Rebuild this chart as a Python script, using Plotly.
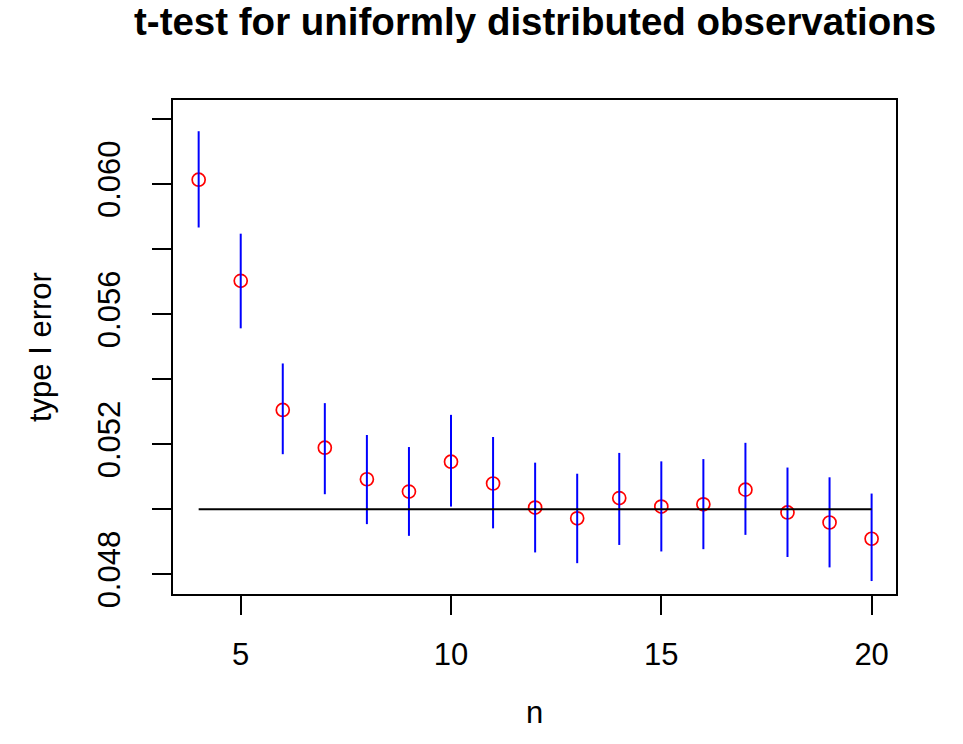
import plotly.graph_objects as go

# Data
n = [4, 5, 6, 7, 8, 9, 10, 11, 12, 13, 14, 15, 16, 17, 18, 19, 20]
type1_error = [0.06013, 0.05702, 0.05305, 0.05189, 0.05092, 0.05054, 0.05146,
               0.05079, 0.05005, 0.04972, 0.05034, 0.05008, 0.05015, 0.05060,
               0.04990, 0.04959, 0.04909]
upper = [0.06162, 0.05847, 0.05448, 0.05326, 0.05228, 0.05191, 0.05290,
         0.05222, 0.05143, 0.05109, 0.05173, 0.05147, 0.05154, 0.05204,
         0.05128, 0.05098, 0.05048]
lower = [0.05866, 0.05556, 0.05169, 0.05046, 0.04954, 0.04918, 0.05008,
         0.04941, 0.04867, 0.04834, 0.04890, 0.04870, 0.04877, 0.04921,
         0.04853, 0.04821, 0.04779]
alpha = 0.05

y_tickvals = [0.048, 0.050, 0.052, 0.054, 0.056, 0.058, 0.060, 0.062]
y_ticktext = ["0.048", "", "0.052", "", "0.056", "", "0.060", ""]
x_tickvals = [5, 10, 15, 20]

FONT = "Liberation Sans, Arial, sans-serif"

# segments for the intervals
seg_x, seg_y = [], []
for xi, lo, hi in zip(n, lower, upper):
    seg_x += [xi, xi, None]
    seg_y += [lo, hi, None]

fig = go.Figure()
fig.add_trace(go.Scatter(
    x=n, y=type1_error, mode="markers",
    marker=dict(symbol="circle-open", size=13, color="#FF0000",
                line=dict(width=1.7, color="#FF0000")),
    showlegend=False, hoverinfo="skip"))
fig.add_trace(go.Scatter(
    x=seg_x, y=seg_y, mode="lines",
    line=dict(color="#0000FF", width=2), showlegend=False, hoverinfo="skip"))
fig.add_trace(go.Scatter(
    x=[n[0], n[-1]], y=[alpha, alpha], mode="lines",
    line=dict(color="black", width=2), showlegend=False, hoverinfo="skip"))

W, H = 963, 744
L, R, T, B = 173, 67, 100, 150
ph = H - T - B
pw = W - L - R

fig.update_layout(
    width=W, height=H,
    margin=dict(l=L, r=R, t=T, b=B),
    paper_bgcolor="white", plot_bgcolor="white",
    font=dict(family=FONT, size=31, color="black"),
    showlegend=False,
    annotations=[
        dict(text="<b>t-test for uniformly distributed observations</b>",
             xref="paper", yref="paper", x=0.5, y=(ph + T - 21) / ph,
             xanchor="center", yanchor="middle", showarrow=False,
             font=dict(family=FONT, size=38.5, color="black")),
        dict(text="n", xref="paper", yref="paper", x=0.5,
             y=-(712 - (T + ph)) / ph, xanchor="center", yanchor="middle",
             showarrow=False, font=dict(family=FONT, size=31, color="black")),
        dict(text="type I error", xref="paper", yref="paper",
             x=(40 - L) / pw, y=0.5, xanchor="center", yanchor="middle",
             textangle=-90, showarrow=False,
             font=dict(family=FONT, size=31, color="black")),
    ],
)

fig.update_xaxes(
    range=[3.39, 20.58], tickvals=x_tickvals,
    showgrid=False, zeroline=False,
    showline=True, linecolor="black", linewidth=1.6, mirror=True,
    ticks="outside", ticklen=19, tickwidth=1.6, tickcolor="black",
    ticklabelstandoff=13,
    tickfont=dict(family=FONT, size=31, color="black"))
fig.update_yaxes(
    range=[0.047392, 0.06258], tickvals=y_tickvals, ticktext=y_ticktext,
    tickangle=-90,
    showgrid=False, zeroline=False,
    showline=True, linecolor="black", linewidth=1.6, mirror=True,
    ticks="outside", ticklen=19, tickwidth=1.6, tickcolor="black",
    ticklabelstandoff=20,
    tickfont=dict(family=FONT, size=31, color="black"))

fig.write_html("out.html")
